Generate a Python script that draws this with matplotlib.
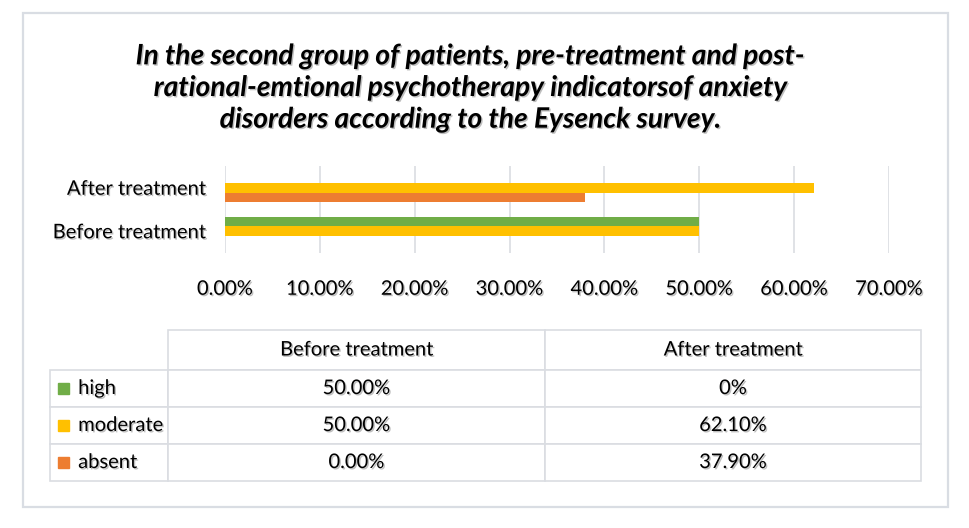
import matplotlib
matplotlib.use("Agg")
import matplotlib.pyplot as plt
import matplotlib.patheffects as pe
from matplotlib.patches import Rectangle

groups = ["Before treatment", "After treatment"]
levels = ["high", "moderate", "absent"]
high = [0.50, 0.0]
moderate = [0.50, 0.621]
absent = [0.0, 0.379]
table_text = [["50.00%", "0%"], ["50.00%", "62.10%"], ["0.00%", "37.90%"]]
colors = ["#70AD47", "#FFC000", "#ED7D31"]
title = ("In the second group of patients, pre-treatment and post-\n"
         "rational-emtional psychotherapy indicatorsof anxiety\n"
         "disorders according to the Eysenck survey.")

plt.rcParams["font.family"] = ["Lato", "DejaVu Sans"]
shadow = [pe.withSimplePatchShadow(offset=(1, -1), shadow_rgbFace="#606060", alpha=0.4)]

fig = plt.figure(figsize=(9.7, 5.28), dpi=100)
W, H = 970, 528

# outer frame
fig.patches.append(Rectangle((23 / W, 1 - 507 / H), 925 / W, 494 / H,
                             transform=fig.transFigure, fill=False,
                             edgecolor="#d9dde3", linewidth=1.6))

fig.text(471 / W, 1 - 88 / H, title, ha="center", va="center", fontsize=20.3,
         fontweight="bold", fontstyle="italic", linespacing=1.27,
         path_effects=shadow)

# bar chart
ax = fig.add_axes([225 / W, 1 - 253 / H, 664 / W, 87 / H])
h = 0.22
y = range(len(groups))
for vals, off, c in zip([high, moderate, absent], [h, 0, -h], colors):
    ax.barh([i + off for i in y], vals, height=h, color=c, zorder=3)
ax.set_xlim(0, 0.7)
ax.set_ylim(-0.5, 1.5)
ax.set_xticks([i / 10 for i in range(8)])
ax.set_xticklabels([f"{i * 10:.2f}%" for i in range(8)])
ax.set_yticks(list(y))
ax.set_yticklabels(groups)
ax.tick_params(axis="x", length=0, pad=20, labelsize=14.5)
ax.tick_params(axis="y", length=0, pad=14, labelsize=14.5)
for lab in ax.get_xticklabels() + ax.get_yticklabels():
    lab.set_path_effects(shadow)
ax.grid(axis="x", color="#dadde2", linewidth=1.2, zorder=0)
for s in ax.spines.values():
    s.set_visible(False)

# data table
tax = fig.add_axes([50 / W, 1 - 481 / H, 871 / W, 151 / H])
tax.axis("off")
cells = [["     " + lv] + row for lv, row in zip(levels, table_text)]
tbl = tax.table(cellText=cells, colLabels=[""] + groups, bbox=[0, 0, 1, 1],
                cellLoc="center")
tbl.auto_set_font_size(False)
widths = [118, 377, 376]
heights = [40, 37, 37, 37]
for (r, c), cell in tbl.get_celld().items():
    cell.set_width(widths[c] / 871)
    cell.set_height(heights[r] / 151)
    cell.set_edgecolor("#dadde2")
    cell.set_linewidth(1.2)
    cell.get_text().set_fontsize(14.5)
    cell.get_text().set_path_effects(shadow)
    if c == 0:
        cell.get_text().set_ha("left")
        cell._loc = "left"
        cell.PAD = 0.02
tbl[0, 0].visible_edges = "open"

# legend keys in the row labels
for i, c in enumerate(colors):
    top = (151 - 40 - 37 * i) / 151
    tax.add_patch(Rectangle((8 / 871, top - 24 / 151), 11 / 871, 11 / 151,
                            transform=tax.transAxes, color=c, clip_on=False))

fig.savefig("out.png", dpi=100)
